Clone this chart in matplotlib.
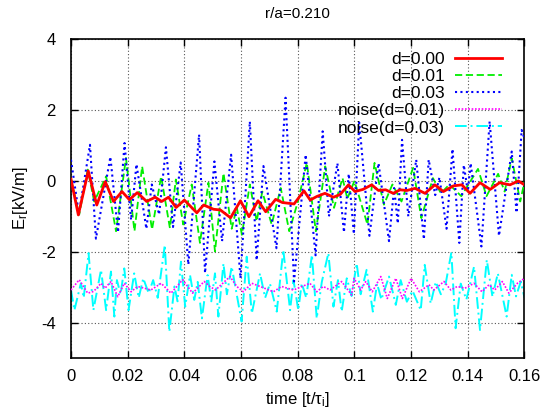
import matplotlib
matplotlib.use('Agg')
import matplotlib.pyplot as plt

plt.rcParams['font.family'] = ['Liberation Sans', 'DejaVu Sans']
plt.rcParams['mathtext.default'] = 'regular'
plt.rcParams['axes.unicode_minus'] = False

# d=0.00 (peaks / troughs)
t_red = [0.0, 0.0026, 0.0061, 0.0091, 0.0121, 0.015, 0.018, 0.0206, 0.0234, 0.0267,
         0.0297, 0.032, 0.0344, 0.0371, 0.040, 0.0444, 0.0468, 0.0503, 0.0527, 0.0563,
         0.0598, 0.0628, 0.066, 0.0687, 0.0722, 0.0746, 0.0787, 0.0822, 0.0844, 0.0867,
         0.0896, 0.0926, 0.0950, 0.0979, 0.1002, 0.1030, 0.1061, 0.1085, 0.1110, 0.1137,
         0.1161, 0.1185, 0.1214, 0.1249, 0.1284, 0.1314, 0.1349, 0.1379, 0.1408, 0.1443,
         0.1479, 0.1512, 0.1549, 0.1578, 0.16]
v_red = [0.05, -0.96, 0.28, -0.68, -0.02, -0.58, -0.30, -0.53, -0.33, -0.58,
         -0.46, -0.58, -0.46, -0.75, -0.54, -0.90, -0.68, -0.80, -0.82, -1.04,
         -0.56, -1.01, -0.56, -0.87, -0.52, -0.61, -0.65, -0.28, -0.54, -0.44,
         -0.35, -0.46, -0.38, -0.11, -0.30, -0.24, -0.11, -0.27, -0.25, -0.35,
         -0.25, -0.27, -0.21, -0.35, -0.11, -0.30, -0.14, -0.11, -0.35, -0.05,
         -0.24, -0.05, -0.11, 0.00, -0.11]

# d=0.01
t_grn = [0.0, 0.0029, 0.0059, 0.0082, 0.0124, 0.0159, 0.0194, 0.0224, 0.0251, 0.0286,
         0.0318, 0.0349, 0.0370, 0.0396, 0.0426, 0.0455, 0.0485, 0.0508, 0.0538, 0.0567,
         0.0585, 0.0603, 0.0631, 0.0655, 0.0675, 0.0708, 0.0740, 0.0770, 0.0800, 0.0832,
         0.0864, 0.0897, 0.0928, 0.0958, 0.0975, 0.1000, 0.1046, 0.1071, 0.1104, 0.1134,
         0.1166, 0.1207, 0.1236, 0.1277, 0.1305, 0.1335, 0.1377, 0.1436, 0.1466, 0.1507,
         0.1530, 0.1555, 0.1585, 0.16]
v_grn = [0.05, -0.95, 0.32, -0.58, 0.13, -1.42, 0.65, -1.42, 0.41, -1.37,
         0.13, -1.33, 0.04, -1.23, -0.10, -1.75, -0.05, -1.99, 0.22, -1.35,
         -0.75, -1.52, -0.10, -1.14, -0.30, -1.23, -0.20, -1.42, -0.60, 0.51,
         -1.42, 0.41, -0.76, 0.08, -0.50, 0.00, -1.23, 0.51, -0.67, -0.10,
         -0.58, 0.37, -1.05, 0.08, -0.35, -0.10, -0.43, 0.34, -0.43, 0.20,
         -0.30, 0.64, -0.58, -0.02]

# d=0.03
t_blu = [0.0, 0.0028, 0.0067, 0.0088, 0.0139, 0.0166, 0.0189, 0.0212, 0.0231, 0.0266,
         0.0285, 0.0311, 0.0335, 0.0360, 0.0387, 0.0414, 0.0452, 0.0473, 0.0506, 0.0533,
         0.0565, 0.0598, 0.0631, 0.0655, 0.0679, 0.0725, 0.0757, 0.0787, 0.0828, 0.0863,
         0.0888, 0.0910, 0.0940, 0.0963, 0.0980, 0.0998, 0.1017, 0.1053, 0.1085, 0.1122,
         0.1140, 0.1153, 0.1168, 0.1190, 0.1218, 0.1245, 0.1262, 0.1285, 0.1300, 0.1325,
         0.1346, 0.1370, 0.1386, 0.1400, 0.1410, 0.1448, 0.1477, 0.1510, 0.1555, 0.1572,
         0.1590, 0.16]
v_blu = [0.60, -0.93, 1.02, -1.63, 0.68, -1.45, 1.07, -1.10, 0.47, -1.35,
         -0.10, -0.95, 0.95, -1.30, 0.52, -2.36, 1.31, -2.60, 0.55, -1.70,
         0.74, -2.75, 1.68, -2.24, 0.42, -1.90, 2.35, -2.84, 0.74, -2.10,
         1.40, -1.00, 0.50, -1.45, 0.20, -1.50, 1.65, -1.55, 0.50, -1.70,
         -0.20, -1.20, 1.16, -1.00, 0.60, -1.65, 0.60, -0.40, 0.10, -1.35,
         0.90, -1.75, 0.45, -0.30, 0.50, -1.85, 1.68, -1.55, 0.83, -0.90,
         1.44, 1.20]

# noise(d=0.01)
t_mag = [0.0, 0.0029, 0.0059, 0.0080, 0.0106, 0.0120, 0.0141, 0.0165, 0.0188, 0.0212,
         0.0235, 0.0259, 0.0282, 0.0318, 0.0353, 0.0394, 0.0429, 0.0470, 0.0490, 0.0510,
         0.0561, 0.0585, 0.0608, 0.0638, 0.0667, 0.0714, 0.0743, 0.0785, 0.0843, 0.0867,
         0.0890, 0.0914, 0.0955, 0.0990, 0.0999, 0.1022, 0.1040, 0.1063, 0.1093, 0.1116,
         0.1146, 0.1169, 0.1200, 0.1229, 0.1263, 0.1280, 0.1316, 0.1340, 0.1363, 0.1390,
         0.1422, 0.1450, 0.1475, 0.1495, 0.1522, 0.1545, 0.1575, 0.16]
v_mag = [-3.08, -2.79, -3.17, -3.12, -2.89, -3.03, -2.84, -3.27, -2.89, -3.13,
         -2.98, -3.03, -3.08, -2.89, -3.17, -2.79, -3.17, -2.84, -2.98, -3.08,
         -2.70, -2.98, -3.13, -2.89, -2.98, -3.13, -2.98, -3.08, -2.89, -3.13,
         -2.98, -3.08, -2.84, -3.22, -2.75, -3.08, -2.84, -3.13, -2.70, -3.32,
         -2.75, -3.32, -2.75, -3.13, -2.93, -3.08, -2.84, -3.08, -2.98, -3.03,
         -2.89, -3.13, -2.93, -3.08, -2.84, -3.17, -2.89, -2.75]

# noise(d=0.03)
t_cyn = [0.0, 0.0012, 0.0035, 0.0045, 0.0062, 0.0079, 0.0106, 0.0124, 0.0141, 0.0153,
         0.0162, 0.0175, 0.0188, 0.0203, 0.0223, 0.0239, 0.0255, 0.0274, 0.0290, 0.0306,
         0.0331, 0.0347, 0.0365, 0.0376, 0.0388, 0.0403, 0.0420, 0.0435, 0.0447, 0.0462,
         0.0482, 0.0495, 0.0508, 0.0520, 0.0538, 0.0550, 0.0567, 0.0602, 0.0620, 0.0638,
         0.0667, 0.0685, 0.0702, 0.0726, 0.0749, 0.0773, 0.0785, 0.0802, 0.0814, 0.0830,
         0.0850, 0.0867, 0.0885, 0.0908, 0.0926, 0.0942, 0.0955, 0.0973, 0.0990, 0.1008,
         0.1022, 0.1043, 0.1065, 0.1080, 0.1095, 0.1122, 0.1146, 0.1163, 0.1185, 0.1205,
         0.1234, 0.1248, 0.1269, 0.1287, 0.1305, 0.1322, 0.1342, 0.1357, 0.1375, 0.1395,
         0.1407, 0.1422, 0.1443, 0.1467, 0.1487, 0.1506, 0.1537, 0.1555, 0.1570, 0.1587,
         0.16]
v_cyn = [-3.08, -3.65, -2.89, -3.30, -2.04, -3.65, -2.51, -3.65, -2.56, -3.83,
         -2.80, -3.20, -2.47, -3.65, -2.61, -3.30, -2.75, -3.17, -2.80, -3.30,
         -1.81, -4.26, -2.98, -3.40, -2.28, -3.55, -2.66, -3.36, -2.85, -3.88,
         -2.66, -3.40, -2.61, -3.83, -2.33, -3.20, -2.42, -3.97, -2.14, -3.74,
         -2.61, -3.30, -2.90, -3.69, -1.95, -3.65, -2.80, -3.65, -2.89, -3.30,
         -2.09, -3.88, -2.85, -2.04, -3.55, -2.80, -3.69, -2.75, -3.25, -2.33,
         -3.20, -2.51, -3.69, -2.90, -3.35, -2.70, -3.50, -2.80, -3.41, -3.10,
         -3.65, -2.37, -3.46, -2.85, -3.20, -2.90, -2.02, -4.16, -2.90, -3.35,
         -2.95, -2.42, -4.21, -2.23, -3.27, -2.61, -3.83, -2.65, -3.26, -2.84,
         -3.30]

xticks = [0, 0.02, 0.04, 0.06, 0.08, 0.1, 0.12, 0.14, 0.16]
xlabels = ['0', '0.02', '0.04', '0.06', '0.08', '0.1', '0.12', '0.14', '0.16']
yticks = [-4, -2, 0, 2, 4]

fig = plt.figure(figsize=(5.46, 4.17), dpi=100)
ax = fig.add_axes([0.130, 0.1415, 0.8306, 0.7643])

ax.plot(t_red, v_red, color='#ff0000', lw=2.0, label='d=0.00', zorder=5)
ax.plot(t_grn, v_grn, color='#00ee00', lw=1.3, ls=(0, (4, 2)), label='d=0.01', zorder=3)
ax.plot(t_blu, v_blu, color='#0000ff', lw=1.5, ls=(0, (1, 1.6)), label='d=0.03', zorder=4)
ax.plot(t_mag, v_mag, color='#ff00ff', lw=1.2, ls=(0, (1, 1)), label='noise(d=0.01)', zorder=3)
ax.plot(t_cyn, v_cyn, color='#00ffff', lw=1.4, ls=(0, (6, 2, 1, 2)), label='noise(d=0.03)', zorder=2)

ax.set_xlim(0, 0.16)
ax.set_ylim(-5, 4)
ax.set_xticks(xticks)
ax.set_xticklabels(xlabels)
ax.set_yticks(yticks)
ax.tick_params(direction='in', length=5, width=1, labelsize=12,
               top=True, right=True)
ax.tick_params(axis='x', pad=8)
ax.tick_params(axis='y', pad=11)
ax.grid(True, color='#555555', lw=0.8, ls=(0, (1, 2)))
for s in ax.spines.values():
    s.set_linewidth(1.2)

ax.set_title('r/a=0.210', fontsize=11, pad=15)
ax.set_xlabel(r'time [t/$\tau_i$]', fontsize=12, labelpad=4)
ax.set_ylabel(r'E$_r$[kV/m]', fontsize=12, labelpad=8)

leg = ax.legend(loc='upper right', bbox_to_anchor=(0.978, 1.0), frameon=False,
                markerfirst=False, fontsize=12.5, handlelength=2.7,
                handletextpad=0.6, labelspacing=0.12, borderaxespad=0.3)

fig.savefig('out.png', dpi=100)
